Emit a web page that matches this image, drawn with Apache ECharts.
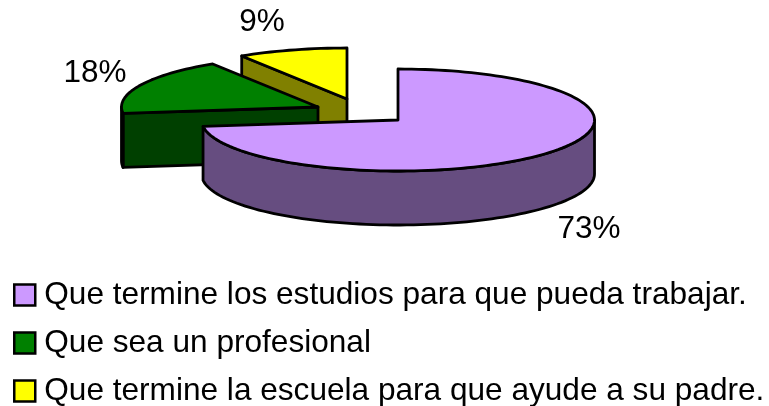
<!DOCTYPE html>
<html>
<head>
<meta charset="utf-8">
<style>
html, body { margin: 0; padding: 0; background: #fff; }
#chart { width: 769px; height: 406px; }
</style>
<script src="https://cdn.jsdelivr.net/npm/echarts@6/dist/echarts.min.js"></script>
</head>
<body>
<div id="chart"></div>
<script>
var categories = [
    'Que termine los estudios para que pueda trabajar.',
    'Que sea un profesional',
    'Que termine la escuela para que ayude a su padre.'
];
var percents = [73, 18, 9];
var colors = ['#CC99FF', '#008000', '#FFFF00'];
var sideColors = ['#664D80', '#004000', '#808000'];

// exploded slice centres and label anchors
var centers = [[398, 120], [318, 107], [347, 99]];
var labelPos = [[589, 229], [95, 73], [262, 22]];
var rx = 196.5, ry = 51, depth = 54;
var edge = { stroke: '#000', lineWidth: 2.8, lineJoin: 'round' };

function point(c, deg, dy) {
    var a = deg * Math.PI / 180;
    return [c[0] + rx * Math.sin(a), c[1] - ry * Math.cos(a) + (dy || 0)];
}

function arc(c, from, to, dy) {
    var pts = [];
    var n = Math.max(1, Math.ceil(Math.abs(to - from) / 2));
    for (var i = 0; i <= n; i++) {
        pts.push(point(c, from + (to - from) * i / n, dy));
    }
    return pts;
}

function poly(points, fill) {
    return {
        type: 'polygon',
        shape: { points: points },
        style: Object.assign({ fill: fill }, edge)
    };
}

function sliceRenderer(idx) {
    return function (params, api) {
        var before = 0;
        for (var i = 0; i < idx; i++) before += percents[i];
        var total = percents.reduce(function (s, v) { return s + v; }, 0);
        var a0 = before / total * 360;
        var a1 = (before + api.value(0)) / total * 360;
        var c = centers[idx];
        var children = [];

        // cut face on the start edge, only when it turns towards the viewer
        if (Math.cos((a0 - 90) * Math.PI / 180) < -0.001) {
            var p = point(c, a0);
            children.push(poly([c, p, [p[0], p[1] + depth], [c[0], c[1] + depth]], sideColors[idx]));
        }
        // outer rim, front half only
        var r0 = Math.max(a0, 90), r1 = Math.min(a1, 270);
        if (r1 > r0) {
            children.push(poly(arc(c, r0, r1).concat(arc(c, r1, r0, depth)), sideColors[idx]));
        }
        // top
        children.push(poly([c].concat(arc(c, a0, a1)), colors[idx]));
        children.push({
            type: 'text',
            style: {
                text: api.value(0) + '%',
                x: labelPos[idx][0],
                y: labelPos[idx][1],
                align: 'center',
                verticalAlign: 'middle',
                fill: '#000',
                font: '31.5px "Liberation Sans", Arial, sans-serif'
            }
        });
        return { type: 'group', children: children };
    };
}

var myChart = echarts.init(document.getElementById('chart'));

myChart.setOption({
    animation: false,
    backgroundColor: '#fff',
    legend: {
        data: categories,
        orient: 'vertical',
        left: 13,
        top: 279,
        height: 200,
        itemWidth: 21,
        itemHeight: 21,
        itemGap: 16,
        padding: 0,
        icon: 'rect',
        selectedMode: false,
        itemStyle: { borderColor: '#000', borderWidth: 2.5 },
        textStyle: {
            color: '#000',
            fontFamily: '"Liberation Sans", Arial, sans-serif',
            fontSize: 31.6,
            padding: [0, 0, 0, 4]
        }
    },
    series: categories.map(function (name, i) {
        return {
            name: name,
            type: 'custom',
            coordinateSystem: 'none',
            z: 3 - i + 1,
            itemStyle: { color: colors[i] },
            renderItem: sliceRenderer(i),
            data: [[percents[i]]]
        };
    })
});
</script>
</body>
</html>
